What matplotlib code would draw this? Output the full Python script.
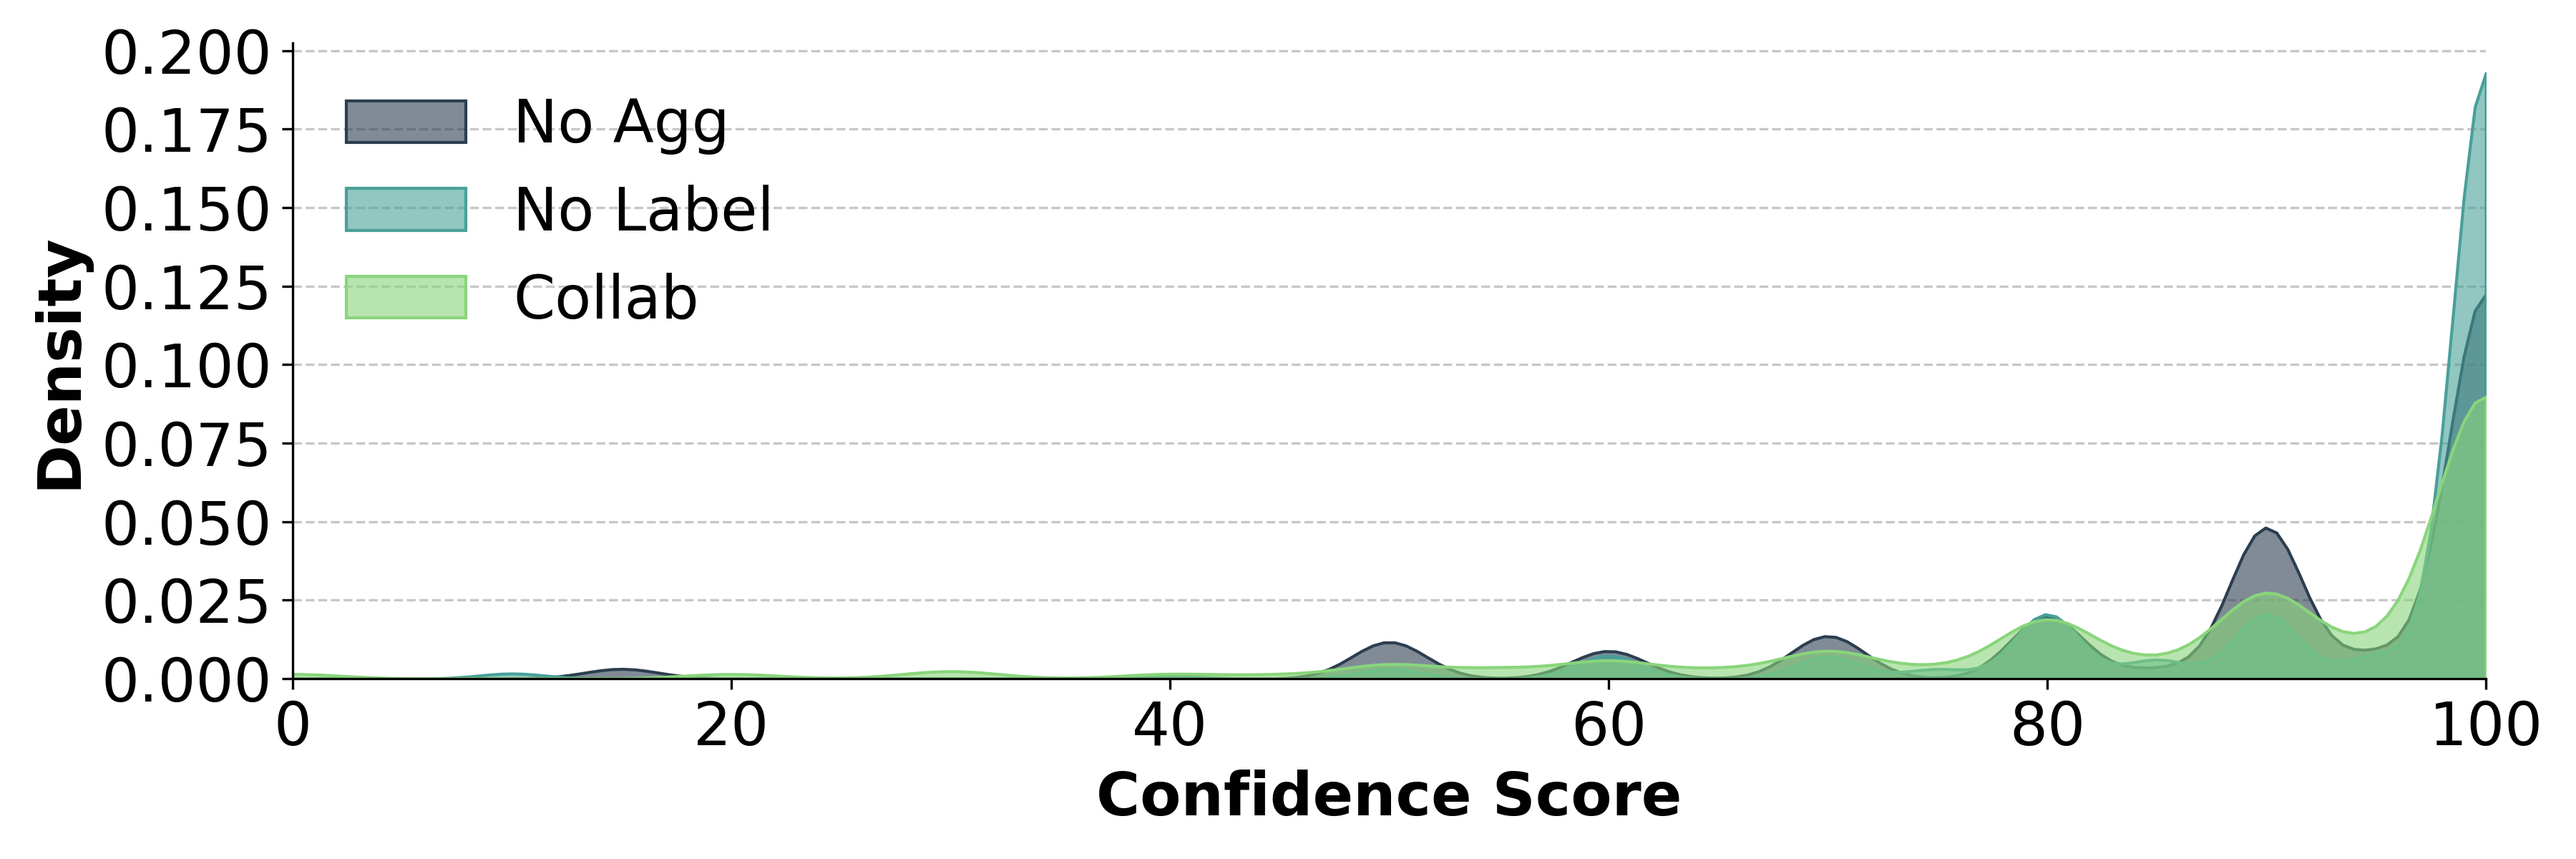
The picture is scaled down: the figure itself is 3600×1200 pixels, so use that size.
import numpy as np
import matplotlib
matplotlib.use("Agg")
import matplotlib.pyplot as plt
from matplotlib.ticker import MultipleLocator, FormatStrFormatter
import seaborn as sns

# confidence scores (counts per 1000 answers)
no_agg_scores = [15, 50, 60, 70, 80, 85, 90, 95, 100]
no_agg_counts = [13, 49, 37, 57, 83, 12, 202, 32, 515]

no_label_scores = [10, 40, 50, 60, 70, 75, 80, 85, 90, 95, 100]
no_label_counts = [6, 3, 11, 27, 26, 11, 76, 22, 76, 27, 715]

collab_scores = [0, 20, 30, 40, 45, 50, 55, 60, 65, 70, 75, 80, 85, 90, 95, 100]
collab_counts = [8, 8, 13, 8, 6, 24, 16, 30, 14, 47, 15, 102, 23, 147, 43, 496]

series_names = ["No Agg", "No Label", "Collab"]

# styling
colors = ["#2c3e50", "#48a099", "#89d57b"]
bandwidths = [1.68, 1.48, 2.22]  # kernel width in score units

fig, ax = plt.subplots(figsize=(12, 4), dpi=300)
fig.subplots_adjust(left=0.1136, right=0.965, top=0.95, bottom=0.21)

all_data = [(no_agg_scores, no_agg_counts),
            (no_label_scores, no_label_counts),
            (collab_scores, collab_counts)]

for (scores, counts), name, col, bw in zip(all_data, series_names, colors, bandwidths):
    samples = np.repeat(scores, counts).astype(float)
    sns.kdeplot(x=samples, ax=ax, fill=True, alpha=0.6, color=col,
                linewidth=1.0, cut=20, clip=(0, 100), label=name,
                bw_method=bw / np.std(samples, ddof=1))

ax.set_xlim(0, 100)
ax.yaxis.set_major_locator(MultipleLocator(0.025))
ax.yaxis.set_major_formatter(FormatStrFormatter("%.3f"))
ax.set_xlabel("Confidence Score", fontsize=20, fontweight="bold")
ax.set_ylabel("Density", fontsize=20, fontweight="bold")
ax.tick_params(axis="both", labelsize=20)
ax.yaxis.grid(True, linestyle="--", alpha=0.7)
ax.set_axisbelow(True)
sns.despine(ax=ax)
ax.legend(loc="upper left", fontsize=20, frameon=False)

fig.savefig("out.png", dpi=300)
